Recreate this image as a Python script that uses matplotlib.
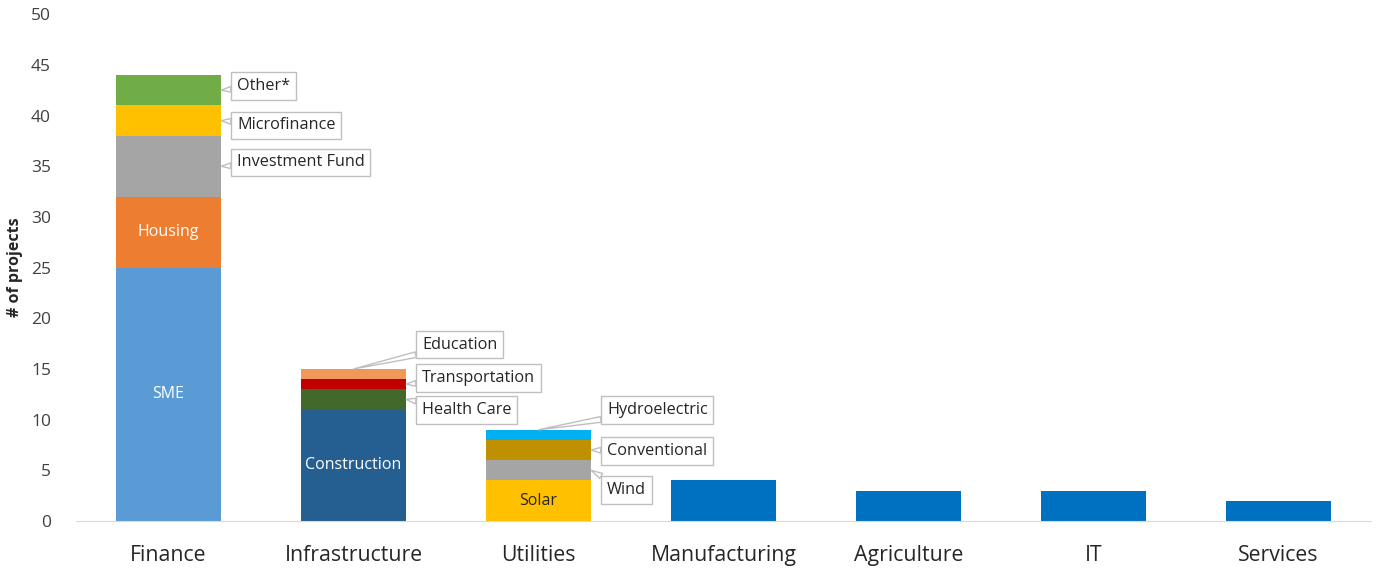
import matplotlib.pyplot as plt

plt.rcParams['font.family'] = ['Open Sans', 'DejaVu Sans']

categories = ['Finance', 'Infrastructure', 'Utilities', 'Manufacturing', 'Agriculture', 'IT', 'Services']

finance_segments = ['SME', 'Housing', 'Investment Fund', 'Microfinance', 'Other*']
finance_values = [25, 7, 6, 3, 3]

infra_segments = ['Construction', 'Health Care', 'Transportation', 'Education']
infra_values = [11, 2, 1, 1]

util_segments = ['Solar', 'Wind', 'Conventional', 'Hydroelectric']
util_values = [4, 2, 2, 1]

single_values = [4, 3, 3, 2]

finance_colors = ['#5b9bd5', '#ed7d31', '#a5a5a5', '#ffc000', '#70ad47']
infra_colors = ['#255e91', '#43682b', '#c00000', '#f1975a']
util_colors = ['#ffc000', '#a5a5a5', '#bf9000', '#00b0f0']
single_color = '#0070c0'

# labels drawn inside the bar, with text colour
inside = {'SME': 'white', 'Housing': 'white', 'Construction': 'white', 'Solar': '#262626'}
# callout boxes: (anchor, text y) ; anchor 'side' = right edge, 'top' = top of bar
callouts = {
    'Other*': ('side', 42.9), 'Microfinance': ('side', 39.05), 'Investment Fund': ('side', 35.4),
    'Education': ('top', 17.4), 'Transportation': ('side', 14.1), 'Health Care': ('side', 10.95),
    'Hydroelectric': ('top', 10.95), 'Conventional': ('side', 6.9), 'Wind': ('side', 3.05),
}

fig = plt.figure(figsize=(13.82, 5.68), dpi=100)
ax = fig.add_axes([0.055, 0.0827, 0.937, 0.8923])
width = 0.57
box_style = dict(boxstyle='square,pad=0.35', fc='white', ec='#bfbfbf', lw=1)

stacks = [(finance_segments, finance_values, finance_colors),
          (infra_segments, infra_values, infra_colors),
          (util_segments, util_values, util_colors)]

for i, (names, vals, cols) in enumerate(stacks):
    bottom = 0
    for name, v, c in zip(names, vals, cols):
        ax.bar(i, v, width=width, bottom=bottom, color=c)
        mid = bottom + v / 2
        if name in inside:
            ax.text(i, mid, name, ha='center', va='center', fontsize=11.5, color=inside[name])
        if name in callouts:
            kind, ty = callouts[name]
            if kind == 'side':
                xy = (i + width / 2, mid)
            else:
                xy = (i, bottom + v)
            ax.annotate(name, xy=xy, xytext=(i + 0.37, ty), ha='left', va='center',
                        fontsize=11.7, color='#262626', bbox=box_style,
                        arrowprops=dict(arrowstyle='wedge,tail_width=0.35', fc='white',
                                        ec='#bfbfbf', shrinkA=0, shrinkB=0))
        bottom += v

ax.bar(range(3, 7), single_values, width=width, color=single_color)

ax.set_xlim(-0.5, 6.5)
ax.set_ylim(0, 50)
ax.set_yticks(range(0, 51, 5))
ax.set_xticks(range(len(categories)))
ax.set_xticklabels(categories, fontsize=15.3, color='#262626')
ax.tick_params(axis='y', length=0, labelsize=12.5, labelcolor='#404040', pad=18)
ax.tick_params(axis='x', length=0, pad=17)
ax.set_ylabel('# of projects', fontsize=11.5, fontweight='bold', color='#262626', labelpad=6)

for s in ['top', 'right', 'left']:
    ax.spines[s].set_visible(False)
ax.spines['bottom'].set_color('#d9d9d9')

fig.savefig('out.png', dpi=100)
